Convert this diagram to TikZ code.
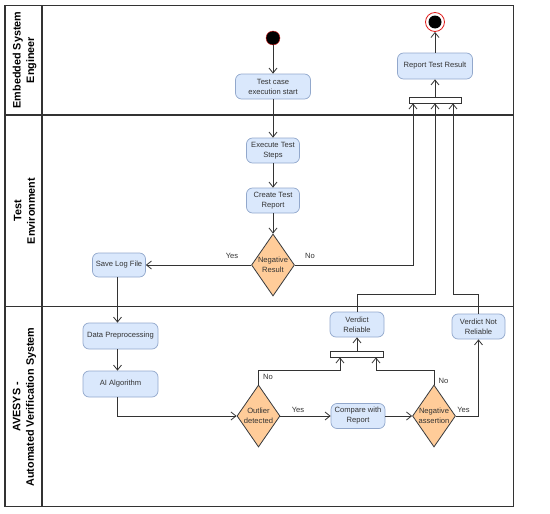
\documentclass[tikz,border=0pt]{standalone}
\usepackage{fontspec}
\setmainfont{Liberation Sans}
\usetikzlibrary{arrows.meta,shapes.geometric,positioning,calc}
\definecolor{actfill}{HTML}{DAE8FC}
\definecolor{actdraw}{HTML}{92A8CC}
\definecolor{diafill}{HTML}{FFCC99}
\definecolor{diadraw}{HTML}{36393D}
\definecolor{ink}{HTML}{333333}
\definecolor{endred}{HTML}{E02020}
\tikzset{
  act/.style={draw=actdraw, fill=actfill, rounded corners=6pt, line width=0.7pt,
    minimum width=#1, minimum height=25pt, inner sep=0pt, align=center,
    text=ink, font=\fontsize{7.6}{10}\selectfont},
  act/.default=53pt,
  dia/.style={draw=diadraw, fill=diafill, shape=diamond, line width=0.8pt,
    minimum width=43pt, minimum height=62pt, inner sep=0pt},
  diatext/.style={align=center, text=ink, font=\fontsize{7.6}{10}\selectfont, inner sep=0pt},
  joinbar/.style={draw=ink, fill=white, line width=0.8pt, minimum width=#1,
    minimum height=6pt, inner sep=0pt},
  arr/.style={draw=ink, line width=0.8pt, -{Straight Barb[length=5pt,width=8pt,line width=0.8pt]}},
  frame/.style={draw=ink, line width=1.1pt},
  lbl/.style={text=ink, font=\fontsize{7.6}{9}\selectfont, inner sep=0pt},
  lanetitle/.style={rotate=90, align=center, text=black,
    font=\fontsize{10.8}{13.5}\selectfont\bfseries, inner sep=0pt}
}
\begin{document}
\begin{tikzpicture}[x=1pt,y=-1pt]
\useasboundingbox (0,0) rectangle (550,514);
% frame
\draw[frame] (5,5.3) rectangle (513.3,506.7);
\draw[frame] (42,5.3) -- (42,506.7);
\draw[frame] (5,115) -- (513.3,115);
\draw[frame] (5,306.7) -- (513.3,306.7);
\node[lanetitle] (l1) at (24.5,60) {Embedded System\\Engineer};
\node[lanetitle] (l2) at (24.5,211) {Test\\Environment};
\node[lanetitle] (l3) at (24.5,407) {AVESYS -\\Automated Verification System};

% lane 1
\node[circle, fill=black, draw=endred, line width=0.4pt, minimum size=14pt, inner sep=0pt] (start) at (273,38) {};
\node[act=75pt] (tcstart) at (273,86.5) {Test case\\execution start};
\node[act=75pt, minimum height=26pt] (report) at (435,66) {Report Test Result};
\node[circle, draw=endred, fill=white, line width=0.8pt, minimum size=19pt, inner sep=0pt] (endc) at (435,22) {};
\node[circle, fill=black, minimum size=13pt, inner sep=0pt] (endi) at (435,22) {};
\node[joinbar=52pt] (bar1) at (435,100) {};

% lane 2
\node[act] (exec) at (273,150.5) {Execute Test\\Steps};
\node[act] (create) at (273,200.5) {Create Test\\Report};
\node[dia, label={[diatext]center:Negative\\Result}] (negres) at (273,265) {};
\node[act, minimum height=24pt] (savelog) at (119,265) {Save Log File};

% lane 3
\node[act=75pt, minimum height=26pt] (prep) at (120.5,336) {Data Preprocessing};
\node[act=75pt, minimum height=26pt] (ai) at (120.5,384) {AI Algorithm};
\node[dia, label={[diatext]center:Outlier\\detected}] (outl) at (258.5,416) {};
\node[act=54pt] (compare) at (358,416) {Compare with\\Report};
\node[dia, label={[diatext]center:Negative\\assertion}] (nass) at (434,416) {};
\node[act=54pt] (vrel) at (357,324.5) {Verdict\\Reliable};
\node[act=53pt] (vnot) at (478.5,326.5) {Verdict Not\\Reliable};
\node[joinbar=53pt] (bar2) at (357,354) {};

% connectors
\draw[arr] (start) -- (tcstart);
\draw[arr] (tcstart) -- (exec);
\draw[arr] (exec) -- (create);
\draw[arr] (create) -- (negres);
\draw[arr] (negres.west) -- (savelog.east);
\draw[arr] (negres.east) -| ([xshift=-22pt]bar1.south);
\draw[arr] (vrel.north) -- ++(0,-17.5) -| (bar1.south);
\draw[arr] (vnot.north) -- ++(0,-19.5) -| ([xshift=18pt]bar1.south);
\draw[arr] (bar1.north) -- (report.south);
\draw[arr] (report.north) -- (endc.south);
\draw[arr] ([xshift=-1.5pt]savelog.south) -- ([xshift=-3pt]prep.north);
\draw[arr] ([xshift=-3pt]prep.south) -- ([xshift=-3pt]ai.north);
\draw[arr] ([xshift=-3pt]ai.south) |- (outl.west);
\draw[arr] (outl.east) -- (compare.west);
\draw[arr] (compare.east) -- (nass.west);
\draw[arr] (outl.north) -- ++(0,-14) -| ([xshift=-17pt]bar2.south);
\draw[arr] (nass.north) -- ++(0,-14) -| ([xshift=19pt]bar2.south);
\draw[arr] (nass.east) -| (vnot.south);
\draw[arr] (bar2.north) -- (vrel.south);

% labels
\node[lbl] (yes1) at (232,256) {Yes};
\node[lbl] (no1) at (310,256) {No};
\node[lbl] (no2) at (268,377) {No};
\node[lbl] (yes2) at (298,410) {Yes};
\node[lbl] (no3) at (443.5,381) {No};
\node[lbl] (yes3) at (463.5,410) {Yes};
\end{tikzpicture}
\end{document}
